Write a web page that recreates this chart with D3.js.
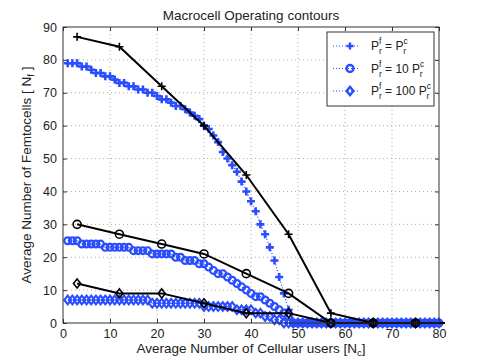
<!DOCTYPE html>
<html>
<head>
<meta charset="utf-8">
<script src="https://cdn.jsdelivr.net/npm/d3@7"></script>
<style>
    body { margin: 0; background: #fff; }
    text { font-family: "Liberation Sans", Arial, sans-serif; fill: #222; }
</style>
</head>
<body>
<div id="chart"></div>
<script>
// tick labels
var xTicks = [0, 10, 20, 30, 40, 50, 60, 70, 80];
var yTicks = [0, 10, 20, 30, 40, 50, 60, 70, 80, 90];

// simulated curves (blue, dotted), one point per user count 1..80
var simUsers = d3.range(1, 81);
var simPlus = [79, 79, 79, 78, 78, 77, 76, 76, 75, 75,
               74, 73, 73, 72, 72, 71, 71, 70, 70, 69,
               68, 68, 67, 66, 66, 65, 64, 63, 62, 60,
               59, 57, 55, 52, 50, 48, 46, 43, 40, 37,
               34, 30, 27, 23, 19, 14, 9, 4, 0, 0,
               0, 0, 0, 0, 0, 0, 0, 0, 0, 0,
               0, 0, 0, 0, 0, 0, 0, 0, 0, 0,
               0, 0, 0, 0, 0, 0, 0, 0, 0, 0];
var simCircle = [25, 25, 25, 24, 24, 24, 24, 24, 23, 23,
                 23, 23, 23, 23, 22, 22, 22, 22, 21, 21,
                 21, 21, 21, 20, 20, 19, 19, 19, 18, 18,
                 17, 16, 15, 15, 14, 13, 12, 11, 10, 9,
                 8, 8, 7, 6, 5, 4, 3, 2, 0, 0,
                 0, 0, 0, 0, 0, 0, 0, 0, 0, 0,
                 0, 0, 0, 0, 0, 0, 0, 0, 0, 0,
                 0, 0, 0, 0, 0, 0, 0, 0, 0, 0];
var simDiamond = [7, 7, 7, 7, 7, 7, 7, 7, 7, 7,
                  7, 7, 7, 7, 7, 7, 7, 7, 6, 6,
                  6, 6, 6, 6, 6, 6, 6, 6, 6, 5,
                  5, 5, 5, 5, 5, 5, 4, 4, 4, 4,
                  3, 3, 2, 2, 1, 1, 0, 0, 0, 0,
                  0, 0, 0, 0, 0, 0, 0, 0, 0, 0,
                  0, 0, 0, 0, 0, 0, 0, 0, 0, 0,
                  0, 0, 0, 0, 0, 0, 0, 0, 0, 0];

// analytical curves (black, solid)
var anaUsers = [3, 12, 21, 30, 39, 48, 57, 66, 75, 84];
var anaPlus = [87, 84, 72, 60, 45, 27, 3, 0, 0, 0];
var anaCircle = [30, 27, 24, 21, 15, 9, 0, 0, 0, 0];
var anaDiamond = [12, 9, 9, 6, 3, 3, 0, 0, 0, 0];

var legendLabels = [
    {sup: "f", sub: "r", rest: " = P", sup2: "c", sub2: "r", marker: "plus"},
    {sup: "f", sub: "r", rest: " = 10 P", sup2: "c", sub2: "r", marker: "circle"},
    {sup: "f", sub: "r", rest: " = 100 P", sup2: "c", sub2: "r", marker: "diamond"}
];

var width = 485, height = 364;
var margin = {left: 63, right: 46, top: 27, bottom: 41};
var blue = "#2a4dff";

var svg = d3.select("#chart").append("svg")
    .attr("width", width)
    .attr("height", height);

var x = d3.scaleLinear().domain([0, 80]).range([margin.left, width - margin.right]);
var y = d3.scaleLinear().domain([0, 90]).range([height - margin.bottom, margin.top]);

svg.append("defs").append("clipPath").attr("id", "plotclip")
    .append("rect")
    .attr("x", margin.left - 6).attr("y", margin.top - 6)
    .attr("width", x(80) - x(0) + 12).attr("height", y(0) - y(90) + 12);

// grid
var grid = svg.append("g");
grid.selectAll(".gx").data(xTicks.slice(1, -1)).enter().append("line")
    .attr("x1", function(d) { return x(d); }).attr("x2", function(d) { return x(d); })
    .attr("y1", y(0)).attr("y2", y(90))
    .attr("stroke", "#aaa").attr("stroke-width", 1).attr("stroke-dasharray", "1,3");
grid.selectAll(".gy").data(yTicks.slice(1, -1)).enter().append("line")
    .attr("x1", x(0)).attr("x2", x(80))
    .attr("y1", function(d) { return y(d); }).attr("y2", function(d) { return y(d); })
    .attr("stroke", "#aaa").attr("stroke-width", 1).attr("stroke-dasharray", "1,3");

// axes (matlab style, ticks inside on all sides)
var axisColor = "#333";
svg.append("g").attr("transform", "translate(0," + y(0) + ")")
    .call(d3.axisBottom(x).tickValues(xTicks).tickSizeInner(-4).tickSizeOuter(0).tickPadding(6))
    .call(function(g) {
        g.select(".domain").remove();
        g.selectAll("line").attr("stroke", axisColor);
        g.selectAll("text").attr("font-size", "12.5px").attr("fill", "#222")
            .attr("font-family", "Liberation Sans, Arial, sans-serif");
    });
svg.append("g").attr("transform", "translate(" + x(0) + ",0)")
    .call(d3.axisLeft(y).tickValues(yTicks).tickSizeInner(-4).tickSizeOuter(0).tickPadding(6))
    .call(function(g) {
        g.select(".domain").remove();
        g.selectAll("line").attr("stroke", axisColor);
        g.selectAll("text").attr("font-size", "12.5px").attr("fill", "#222")
            .attr("font-family", "Liberation Sans, Arial, sans-serif");
    });
svg.append("g").attr("transform", "translate(0," + y(90) + ")")
    .call(d3.axisTop(x).tickValues(xTicks).tickSizeInner(-4).tickSizeOuter(0).tickFormat(""))
    .call(function(g) { g.select(".domain").remove(); g.selectAll("line").attr("stroke", axisColor); });
svg.append("g").attr("transform", "translate(" + x(80) + ",0)")
    .call(d3.axisRight(y).tickValues(yTicks).tickSizeInner(-4).tickSizeOuter(0).tickFormat(""))
    .call(function(g) { g.select(".domain").remove(); g.selectAll("line").attr("stroke", axisColor); });

// marker drawing
function drawMarker(g, kind, cx, cy, s, color, sw) {
    if (kind == "plus") {
        g.append("path")
            .attr("d", "M" + (cx - s) + "," + cy + "H" + (cx + s) + "M" + cx + "," + (cy - s) + "V" + (cy + s))
            .attr("stroke", color).attr("stroke-width", sw).attr("fill", "none");
    }
    else if (kind == "circle") {
        g.append("circle").attr("cx", cx).attr("cy", cy).attr("r", s)
            .attr("stroke", color).attr("stroke-width", sw).attr("fill", "none");
    }
    else {
        g.append("path")
            .attr("d", "M" + cx + "," + (cy - s) + "L" + (cx + s * 0.8) + "," + cy +
                  "L" + cx + "," + (cy + s) + "L" + (cx - s * 0.8) + "," + cy + "Z")
            .attr("stroke", color).attr("stroke-width", sw).attr("fill", "none");
    }
}

var plot = svg.append("g").attr("clip-path", "url(#plotclip)");
var line = d3.line()
    .x(function(d) { return x(d[0]); })
    .y(function(d) { return y(d[1]); });

var simSeries = [[simPlus, "plus", 4, 2.6], [simCircle, "circle", 3.4, 2.2], [simDiamond, "diamond", 4.3, 2.1]];
simSeries.forEach(function(s) {
    var pts = simUsers.map(function(u, i) { return [u, s[0][i]]; });
    plot.append("path").datum(pts).attr("d", line)
        .attr("fill", "none").attr("stroke", blue).attr("stroke-width", 1.2)
        .attr("stroke-dasharray", "1,2");
    pts.forEach(function(p) {
        drawMarker(plot, s[1], x(p[0]), y(p[1]), s[2], blue, s[3]);
    });
});

var anaSeries = [[anaPlus, "plus", 4, 1.6], [anaCircle, "circle", 4, 1.6], [anaDiamond, "diamond", 4.5, 1.6]];
anaSeries.forEach(function(s) {
    var pts = anaUsers.map(function(u, i) { return [u, s[0][i]]; });
    plot.append("path").datum(pts).attr("d", line)
        .attr("fill", "none").attr("stroke", "#000").attr("stroke-width", 2);
    pts.forEach(function(p) {
        drawMarker(plot, s[1], x(p[0]), y(p[1]), s[2], "#000", s[3]);
    });
});

// box
svg.append("rect")
    .attr("x", x(0)).attr("y", y(90))
    .attr("width", x(80) - x(0)).attr("height", y(0) - y(90))
    .attr("fill", "none").attr("stroke", axisColor).attr("stroke-width", 1);

// title and labels
svg.append("text")
    .attr("x", (x(0) + x(80)) / 2).attr("y", 20)
    .attr("text-anchor", "middle").attr("font-size", "13.5px")
    .text("Macrocell Operating contours");

var xl = svg.append("text")
    .attr("x", (x(0) + x(80)) / 2).attr("y", 353)
    .attr("text-anchor", "middle").attr("font-size", "13.5px");
xl.append("tspan").text("Average Number of Cellular users [N");
xl.append("tspan").attr("font-size", "9.5px").attr("dy", 3).text("c");
xl.append("tspan").attr("dy", -3).text("]");

var yl = svg.append("text")
    .attr("transform", "translate(31," + (y(45)) + ") rotate(-90)")
    .attr("text-anchor", "middle").attr("font-size", "13.5px");
yl.append("tspan").text("Average Number of Femtocells [ N");
yl.append("tspan").attr("font-size", "9.5px").attr("dy", 3).text("f");
yl.append("tspan").attr("dy", -3).text(" ]");

// legend
var lg = svg.append("g");
lg.append("rect")
    .attr("x", 327).attr("y", 32).attr("width", 107).attr("height", 74)
    .attr("fill", "#fff").attr("stroke", axisColor).attr("stroke-width", 1);
legendLabels.forEach(function(d, i) {
    var ly = 46 + i * 22.5;
    lg.append("line")
        .attr("x1", 333).attr("x2", 360).attr("y1", ly).attr("y2", ly)
        .attr("stroke", blue).attr("stroke-width", 1.2).attr("stroke-dasharray", "1,2");
    drawMarker(lg, d.marker, 350, ly, d.marker == "diamond" ? 4.2 : 3.5, blue, 2.4);
    var t = lg.append("text").attr("x", 371).attr("y", ly + 4).attr("font-size", "12px");
    t.append("tspan").text("P");
    t.append("tspan").attr("font-size", "8.5px").attr("dy", -6).text(d.sup);
    t.append("tspan").attr("font-size", "8.5px").attr("dx", -2.5).attr("dy", 10).text(d.sub);
    t.append("tspan").attr("dy", -4).text(d.rest);
    t.append("tspan").attr("font-size", "8.5px").attr("dy", -6).text(d.sup2);
    t.append("tspan").attr("font-size", "8.5px").attr("dx", -4.5).attr("dy", 10).text(d.sub2);
});
</script>
</body>
</html>
